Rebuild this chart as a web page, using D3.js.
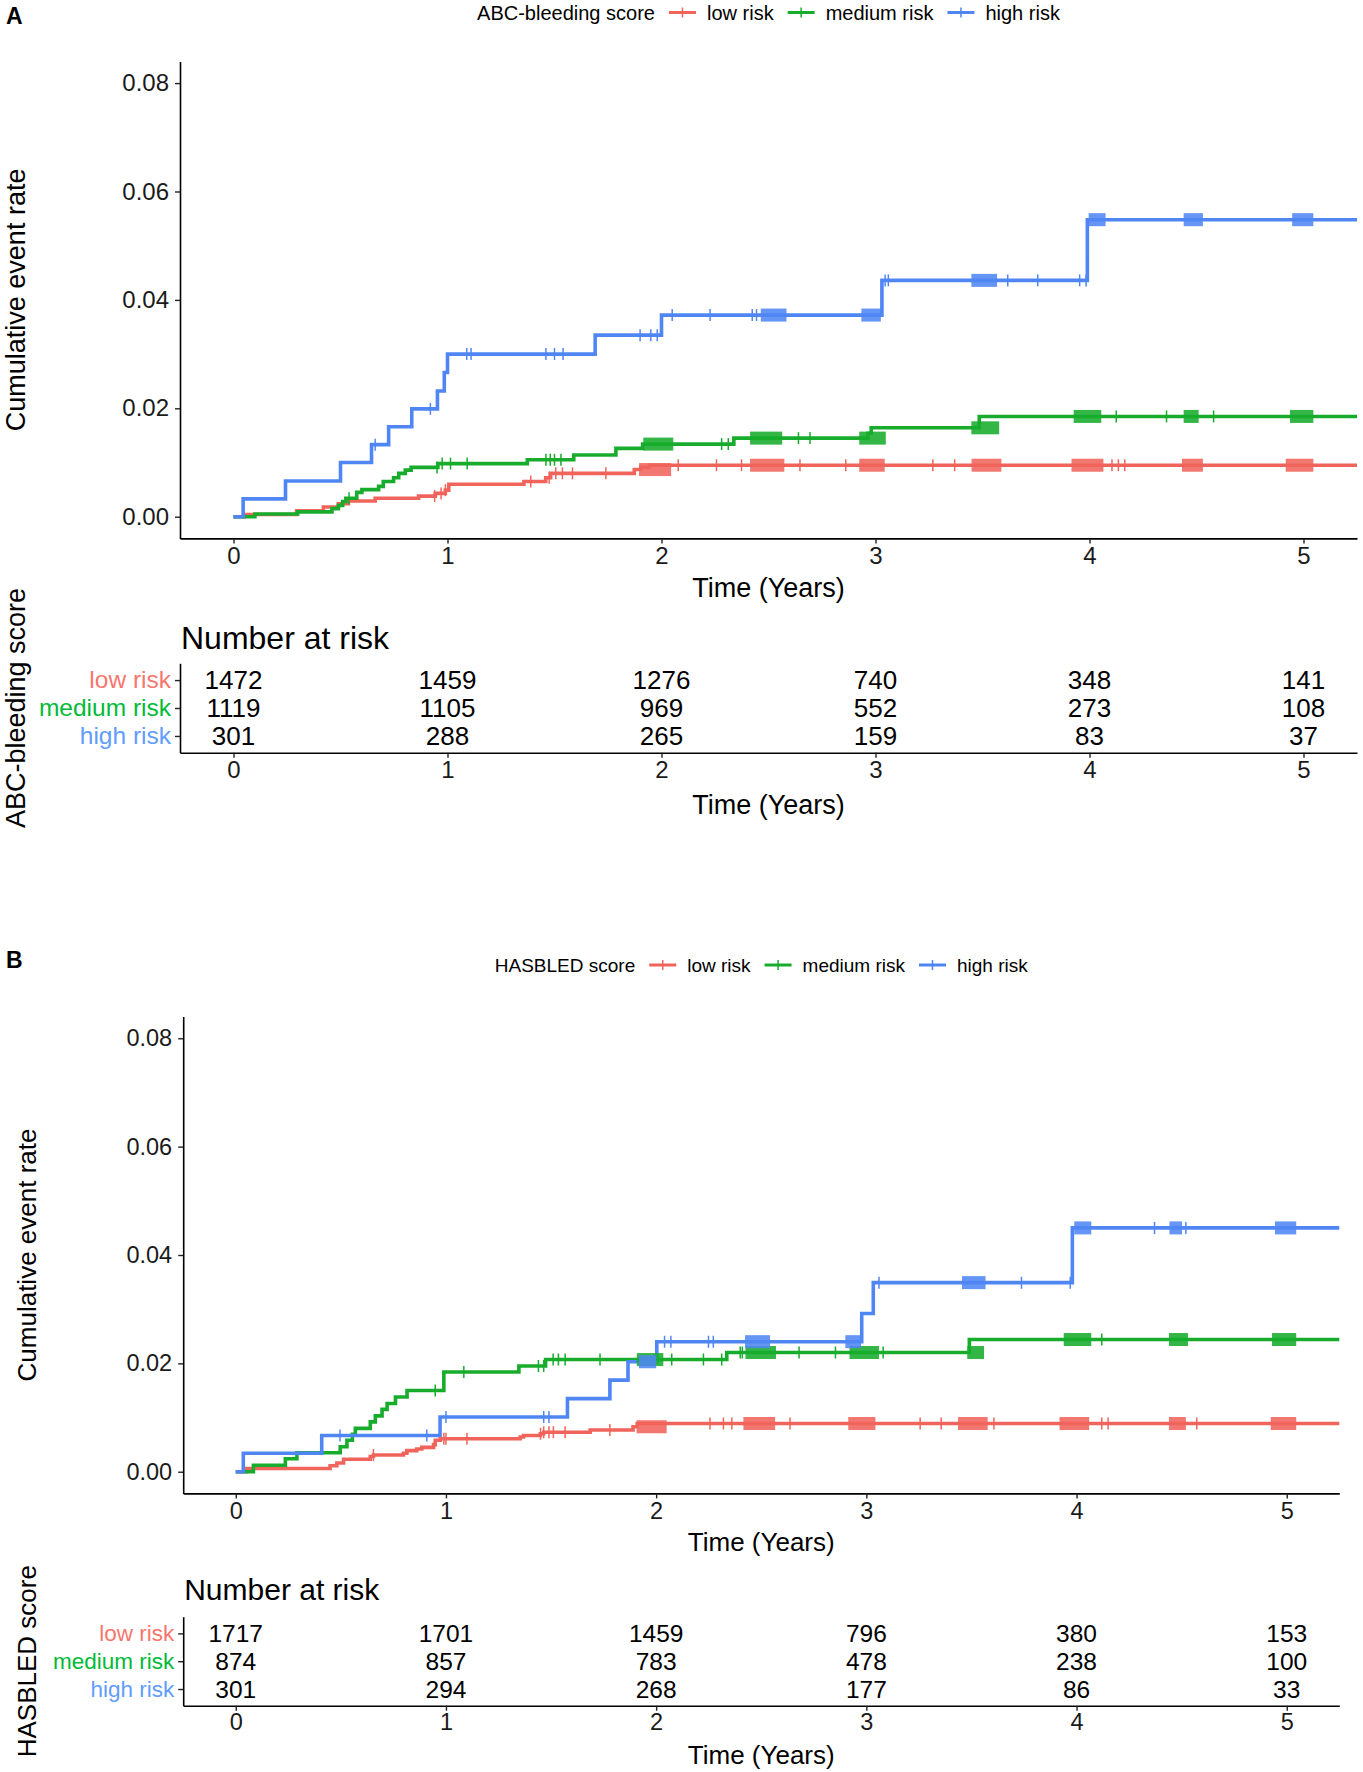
<!DOCTYPE html>
<html>
<head>
<meta charset="utf-8">
<script src="https://cdn.jsdelivr.net/npm/d3@7"></script>
<style>
  body { margin: 0; background: #fff; }
  svg text { font-family: "Liberation Sans", Arial, Helvetica, sans-serif; }
</style>
</head>
<body>
<div id="chart"></div>
<script>
// ---- data ----
const timeTicks = [0, 1, 2, 3, 4, 5];
const rateTicks = [0, 0.02, 0.04, 0.06, 0.08];
const riskGroups = ["low risk", "medium risk", "high risk"];

// Panel A: ABC-bleeding score, step points [time, cumulative rate]
const abcLowSteps = [[0.05, 0.0004], [0.295, 0.0011], [0.42, 0.0018], [0.49, 0.0024], [0.537, 0.0029],
  [0.662, 0.0034], [0.865, 0.0038], [0.943, 0.0043], [0.99, 0.0049], [1.006, 0.0060], [1.357, 0.0065],
  [1.459, 0.0072], [1.482, 0.0080], [1.873, 0.0087], [1.904, 0.0091], [1.943, 0.0095]];
const abcMediumSteps = [[0.10, 0.0005], [0.30, 0.0009], [0.46, 0.0015], [0.49, 0.0021], [0.51, 0.0028],
  [0.525, 0.0034], [0.576, 0.0045], [0.60, 0.0050], [0.678, 0.0056], [0.70, 0.0065], [0.748, 0.0072],
  [0.772, 0.0080], [0.803, 0.0086], [0.83, 0.0091], [0.955, 0.0098], [1.373, 0.0105], [1.59, 0.0114],
  [1.787, 0.0126], [1.912, 0.0134], [2.338, 0.0145], [2.965, 0.0154], [2.98, 0.0164], [3.485, 0.0185]];
const abcHighSteps = [[0.045, 0.0033], [0.243, 0.0066], [0.50, 0.0100], [0.645, 0.0133], [0.725, 0.0166],
  [0.833, 0.0199], [0.953, 0.0232], [0.985, 0.0266], [1.0, 0.0300], [1.69, 0.0335], [2.0, 0.0372],
  [3.03, 0.0436], [3.99, 0.0548]];

// censoring marks: single times and dense clusters [from, to]
const abcLowCensor = [0.94, 0.97, 0.99, 1.389, 1.475, 1.506, 1.537, 1.584, 1.74, 2.078, 2.257, 2.374,
  2.647, 2.861, 3.268, 3.37, 4.105, 4.135, 4.165];
const abcLowClusters = [[1.895, 2.045], [2.414, 2.574], [2.924, 3.043], [3.449, 3.588], [3.916, 4.065],
  [4.432, 4.53], [4.917, 5.046]];
const abcMediumCensor = [0.54, 0.951, 0.975, 1.014, 1.092, 1.46, 1.48, 1.50, 1.53, 2.281, 2.312, 2.64,
  2.694, 4.125, 4.36, 4.58];
const abcMediumClusters = [[1.915, 2.055], [2.414, 2.564], [2.924, 3.048], [3.448, 3.578], [3.926, 4.055],
  [4.44, 4.51], [4.937, 5.046]];
const abcHighCensor = [0.662, 0.92, 1.09, 1.11, 1.46, 1.50, 1.54, 1.90, 1.95, 1.98, 2.05, 2.227, 2.424,
  2.444, 3.045, 3.06, 3.618, 3.758, 3.954, 3.984];
const abcHighClusters = [[2.464, 2.584], [2.934, 3.025], [3.448, 3.568], [3.996, 4.075], [4.44, 4.53],
  [4.947, 5.046]];

const abcRisk = [
  [1472, 1459, 1276, 740, 348, 141],
  [1119, 1105, 969, 552, 273, 108],
  [301, 288, 265, 159, 83, 37]
];

// Panel B: HASBLED score
const hasLowSteps = [[0.052, 0.0006], [0.449, 0.0011], [0.481, 0.0016], [0.513, 0.0023], [0.64, 0.0028],
  [0.655, 0.0031], [0.798, 0.0034], [0.814, 0.0039], [0.861, 0.0042], [0.885, 0.0045], [0.941, 0.0050],
  [0.949, 0.0058], [0.973, 0.0061], [1.353, 0.0064], [1.369, 0.0067], [1.449, 0.0070], [1.465, 0.0073],
  [1.686, 0.0077], [1.89, 0.0083], [1.91, 0.0089]];
const hasMediumSteps = [[0.084, 0.0012], [0.236, 0.0024], [0.291, 0.0035], [0.497, 0.0046], [0.529, 0.0058],
  [0.555, 0.0069], [0.569, 0.0080], [0.64, 0.0092], [0.664, 0.0103], [0.696, 0.0115], [0.72, 0.0126],
  [0.76, 0.0138], [0.815, 0.0150], [0.99, 0.0184], [1.347, 0.0195], [1.474, 0.0207], [2.336, 0.0220],
  [3.49, 0.0244]];
const hasHighSteps = [[0.036, 0.0034], [0.409, 0.0067], [0.972, 0.0101], [1.578, 0.0135], [1.78, 0.0169],
  [1.866, 0.0203], [2.003, 0.0240], [2.978, 0.0292], [3.033, 0.0349], [3.98, 0.0450]];

const hasLowCensor = [0.655, 0.99, 1.0, 1.10, 1.45, 1.465, 1.49, 1.511, 1.567, 1.78, 2.256, 2.32, 2.36,
  2.637, 3.256, 3.356, 3.607, 4.12, 4.15, 4.572];
const hasLowClusters = [[1.907, 2.05], [2.415, 2.566], [2.914, 3.043], [3.436, 3.577], [3.919, 4.06],
  [4.44, 4.52], [4.924, 5.045]];
const hasMediumCensor = [0.949, 1.085, 1.44, 1.465, 1.51, 1.535, 1.567, 1.733, 2.074, 2.225, 2.312, 2.40,
  2.41, 2.68, 2.853, 3.08, 4.12];
const hasMediumClusters = [[1.908, 2.034], [2.425, 2.57], [2.92, 3.06], [3.48, 3.56], [3.939, 4.07],
  [4.44, 4.53], [4.93, 5.045]];
const hasHighCensor = [0.496, 0.909, 1.0, 1.465, 1.49, 2.04, 2.07, 2.249, 2.272, 3.06, 3.738, 3.97,
  4.371, 4.52];
const hasHighClusters = [[1.918, 2.0], [2.423, 2.542], [2.90, 2.975], [3.455, 3.567], [3.989, 4.07],
  [4.442, 4.502], [4.944, 5.045]];

const hasRisk = [
  [1717, 1701, 1459, 796, 380, 153],
  [874, 857, 783, 478, 238, 100],
  [301, 294, 268, 177, 86, 33]
];

// ---- styles ----
const lineColors = ["#F0645C", "#17AC2C", "#5086F4"];
const labelColors = ["#F8766D", "#00BA38", "#619CFF"];

const svg = d3.select("#chart").append("svg")
  .attr("width", 1363)
  .attr("height", 1772)
  .style("background", "#fff");

function stepValue(steps, t) {
  let v = 0;
  steps.forEach(s => { if (s[0] <= t) v = s[1]; });
  return v;
}

function styleAxis(sel, fontSize) {
  sel.attr("font-size", null).attr("font-family", null);
  sel.select(".domain").attr("stroke", "#000").attr("stroke-width", 1.6);
  sel.selectAll(".tick line").attr("stroke", "#222").attr("stroke-width", 1.4);
  sel.selectAll(".tick text").attr("fill", "#1a1a1a").style("font-size", fontSize + "px");
}

function drawPanel(p, L) {
  const g = svg.append("g");
  const x = d3.scaleLinear().domain([-0.25, 5.25]).range([L.left, L.right]);
  const y = d3.scaleLinear().domain([-0.004, 0.084]).range([L.bottom, L.top]);
  const mid = (L.left + L.right) / 2;

  // Panel letter
  g.append("text")
    .attr("x", 6).attr("y", L.letterY)
    .style("font-size", "23px").style("font-weight", "bold")
    .text(p.letter);

  // Legend on top
  const leg = g.append("g").style("font-size", L.legendFont + "px");
  let cx = 0;
  const title = leg.append("text").attr("x", 0).attr("y", L.legendY).attr("dy", "0.35em").text(p.legendTitle);
  cx += title.node().getComputedTextLength() + 14;
  riskGroups.forEach((name, i) => {
    leg.append("line")
      .attr("x1", cx).attr("x2", cx + 27)
      .attr("y1", L.legendY).attr("y2", L.legendY)
      .attr("stroke", lineColors[i]).attr("stroke-width", 3);
    leg.append("line")
      .attr("x1", cx + 13.5).attr("x2", cx + 13.5)
      .attr("y1", L.legendY - 5).attr("y2", L.legendY + 5)
      .attr("stroke", lineColors[i]).attr("stroke-width", 1.5);
    cx += 27 + 11;
    const t = leg.append("text").attr("x", cx).attr("y", L.legendY).attr("dy", "0.35em").text(name);
    cx += t.node().getComputedTextLength() + 14;
  });
  leg.attr("transform", `translate(${mid - (cx - 14) / 2},0)`);

  // Curves, clipped to panel
  const clipId = "clip" + p.letter;
  g.append("clipPath").attr("id", clipId)
    .append("rect")
    .attr("x", L.left).attr("y", L.top)
    .attr("width", L.right - L.left).attr("height", L.bottom - L.top);

  const curves = g.append("g").attr("clip-path", `url(#${clipId})`);
  const line = d3.line().x(d => x(d[0])).y(d => y(d[1])).curve(d3.curveStepAfter);

  p.steps.forEach((steps, i) => {
    const last = steps[steps.length - 1][1];
    curves.append("path")
      .datum([[0, 0], ...steps, [5.3, last]])
      .attr("d", line)
      .attr("fill", "none")
      .attr("stroke", lineColors[i])
      .attr("stroke-width", 3.6);
  });

  p.steps.forEach((steps, i) => {
    curves.append("g").selectAll("rect")
      .data(p.clusters[i])
      .enter()
      .append("rect")
      .attr("x", d => x(d[0]))
      .attr("width", d => x(d[1]) - x(d[0]))
      .attr("y", d => y(stepValue(steps, d[0])) - 6.5)
      .attr("height", 13)
      .attr("fill", lineColors[i])
      .attr("opacity", 0.88);

    curves.append("g").selectAll("line")
      .data(p.censor[i])
      .enter()
      .append("line")
      .attr("x1", d => x(d)).attr("x2", d => x(d))
      .attr("y1", d => y(stepValue(steps, d)) - 6)
      .attr("y2", d => y(stepValue(steps, d)) + 6)
      .attr("stroke", lineColors[i])
      .attr("stroke-width", 1.5);
  });

  // Axes of the curve panel
  const xAxis = g.append("g")
    .attr("transform", `translate(0,${L.bottom})`)
    .call(d3.axisBottom(x).tickValues(timeTicks).tickFormat(d3.format("d"))
      .tickSize(5).tickSizeOuter(0).tickPadding(L.xPad));
  styleAxis(xAxis, L.tickFont);

  const yAxis = g.append("g")
    .attr("transform", `translate(${L.left},0)`)
    .call(d3.axisLeft(y).tickValues(rateTicks).tickFormat(d3.format(".2f"))
      .tickSize(5).tickSizeOuter(0).tickPadding(6));
  styleAxis(yAxis, L.tickFont);

  g.append("text")
    .attr("x", mid).attr("y", L.timeTitleY).attr("dy", "0.35em")
    .attr("text-anchor", "middle")
    .style("font-size", L.titleFont + "px")
    .text("Time (Years)");

  g.append("text")
    .attr("transform", `translate(${L.titleX},${(L.top + L.bottom) / 2}) rotate(-90)`)
    .attr("dy", "0.35em")
    .attr("text-anchor", "middle")
    .style("font-size", L.titleFont + "px")
    .text("Cumulative event rate");

  // Number at risk table
  g.append("text")
    .attr("x", L.left + 1).attr("y", L.nrTitleY).attr("dy", "0.35em")
    .style("font-size", L.nrFont + "px")
    .text("Number at risk");

  const row = d3.scalePoint().domain(riskGroups).range([L.tableTop, L.tableBottom]).padding(0.6);

  const rowAxis = g.append("g")
    .attr("transform", `translate(${L.left},0)`)
    .call(d3.axisLeft(row).tickSize(5).tickSizeOuter(0).tickPadding(4));
  styleAxis(rowAxis, L.rowFont);
  rowAxis.selectAll(".tick text").attr("fill", (d, i) => labelColors[i]);

  const tAxis = g.append("g")
    .attr("transform", `translate(0,${L.tableBottom})`)
    .call(d3.axisBottom(x).tickValues(timeTicks).tickFormat(d3.format("d"))
      .tickSize(5).tickSizeOuter(0).tickPadding(L.xPad - 1));
  styleAxis(tAxis, L.tickFont);

  p.risk.forEach((vals, i) => {
    g.append("g").selectAll("text")
      .data(vals)
      .enter()
      .append("text")
      .attr("x", (d, j) => x(timeTicks[j]))
      .attr("y", row(riskGroups[i]))
      .attr("dy", "0.36em")
      .attr("text-anchor", "middle")
      .style("font-size", L.numFont + "px")
      .text(d => d);
  });

  g.append("text")
    .attr("x", mid).attr("y", L.tableTimeTitleY).attr("dy", "0.35em")
    .attr("text-anchor", "middle")
    .style("font-size", L.titleFont + "px")
    .text("Time (Years)");

  g.append("text")
    .attr("transform", `translate(${L.titleX},${(L.tableTop + L.tableBottom) / 2}) rotate(-90)`)
    .attr("dy", "0.35em")
    .attr("text-anchor", "middle")
    .style("font-size", L.titleFont + "px")
    .text(p.strata);
}

drawPanel({
  letter: "A",
  legendTitle: "ABC-bleeding score",
  strata: "ABC-bleeding score",
  steps: [abcLowSteps, abcMediumSteps, abcHighSteps],
  censor: [abcLowCensor, abcMediumCensor, abcHighCensor],
  clusters: [abcLowClusters, abcMediumClusters, abcHighClusters],
  risk: abcRisk
}, {
  letterY: 24, legendY: 12.5, legendFont: 20,
  left: 180, right: 1357, top: 61.4, bottom: 538.4,
  titleX: 16, tickFont: 24, titleFont: 27, xPad: 4,
  timeTitleY: 588, nrTitleY: 638, nrFont: 32,
  tableTop: 663.3, tableBottom: 752.7, tableTimeTitleY: 805,
  rowFont: 24.5, numFont: 26
});

drawPanel({
  letter: "B",
  legendTitle: "HASBLED score",
  strata: "HASBLED score",
  steps: [hasLowSteps, hasMediumSteps, hasHighSteps],
  censor: [hasLowCensor, hasMediumCensor, hasHighCensor],
  clusters: [hasLowClusters, hasMediumClusters, hasHighClusters],
  risk: hasRisk
}, {
  letterY: 968, legendY: 965, legendFont: 19,
  left: 183.2, right: 1339.3, top: 1016.6, bottom: 1493.4,
  titleX: 27, tickFont: 23.5, titleFont: 26, xPad: 4,
  timeTitleY: 1541.7, nrTitleY: 1589.3, nrFont: 30,
  tableTop: 1616.7, tableBottom: 1705.7, tableTimeTitleY: 1755,
  rowFont: 22.5, numFont: 24.5
});
</script>
</body>
</html>
